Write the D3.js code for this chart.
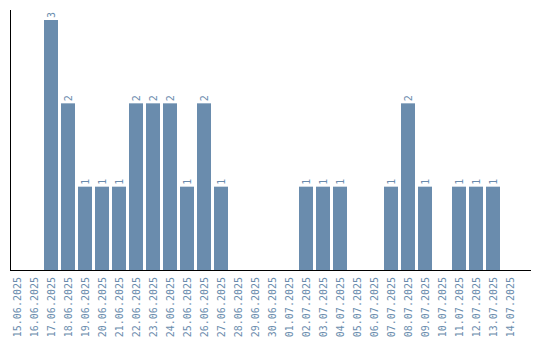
<!DOCTYPE html>
<html><head><meta charset="utf-8">
<script src="https://cdn.jsdelivr.net/npm/d3@7"></script>
<style>body{margin:0;background:#fff}svg{display:block}</style>
</head><body>
<script>
const dates = ["15.06.2025","16.06.2025","17.06.2025","18.06.2025","19.06.2025","20.06.2025","21.06.2025","22.06.2025","23.06.2025","24.06.2025","25.06.2025","26.06.2025","27.06.2025","28.06.2025","29.06.2025","30.06.2025","01.07.2025","02.07.2025","03.07.2025","04.07.2025","05.07.2025","06.07.2025","07.07.2025","08.07.2025","09.07.2025","10.07.2025","11.07.2025","12.07.2025","13.07.2025","14.07.2025"];
const counts = [0,0,3,2,1,1,1,2,2,2,1,2,1,0,0,0,0,1,1,1,0,0,1,2,1,0,1,1,1,0];

const W = 540, H = 340;
const color = "#6a8cad";
const svg = d3.select("body").append("svg").attr("width", W).attr("height", H);

const x = d3.scaleBand().domain(dates).range([10, 517]).paddingInner(3/17).paddingOuter(0);
const y = d3.scaleLinear().domain([0, 3]).range([270, 20]);

const data = dates.map((d, i) => ({d, v: counts[i]}));

svg.selectAll("rect.bar").data(data.filter(e => e.v > 0)).join("rect")
  .attr("class","bar")
  .attr("x", e => x(e.d)).attr("width", x.bandwidth())
  .attr("y", e => y(e.v)).attr("height", e => y(0) - y(e.v))
  .attr("fill", color);

svg.selectAll("text.val").data(data.filter(e => e.v > 0)).join("text")
  .attr("class","val")
  .attr("transform", e => `translate(${x(e.d) + x.bandwidth()/2 + 3.5},${y(e.v) - 2}) rotate(-90)`)
  .attr("font-family", "DejaVu Sans Mono, monospace")
  .attr("font-size", 10)
  .attr("fill", color)
  .text(e => e.v);

const xAxis = d3.axisBottom(x).tickSize(0).tickPadding(0);
const gx = svg.append("g").attr("transform", "translate(0,270)").call(xAxis);
gx.select(".domain").remove();
gx.selectAll("text")
  .attr("font-family", "DejaVu Sans Mono, monospace")
  .attr("font-size", 10)
  .attr("fill", color)
  .attr("text-anchor", "end")
  .attr("dy", null)
  .attr("y", 0)
  .attr("transform", "translate(3.5,7) rotate(-90)");

svg.append("line").attr("x1", 10.5).attr("x2", 10.5).attr("y1", 10).attr("y2", 270).attr("stroke", "#000");
svg.append("line").attr("x1", 10).attr("x2", 531).attr("y1", 270.5).attr("y2", 270.5).attr("stroke", "#000");
</script>
</body></html>
